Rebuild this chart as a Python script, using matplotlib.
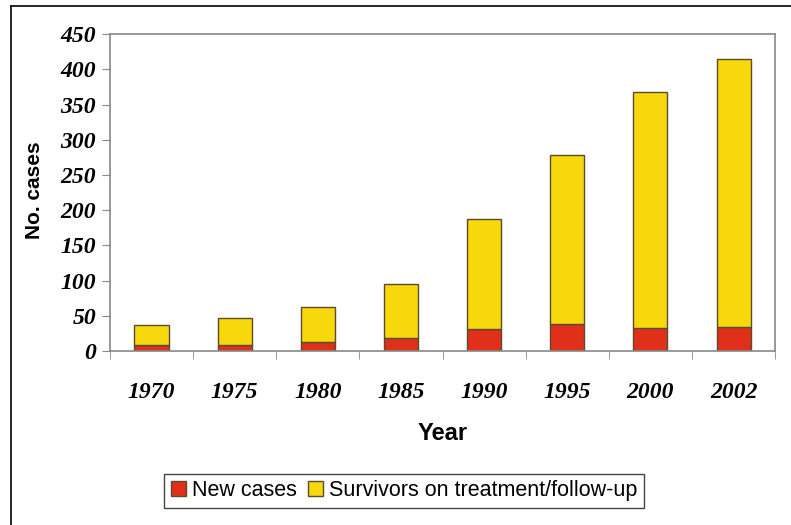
import numpy as np
import matplotlib
matplotlib.use('Agg')
import matplotlib.pyplot as plt
from matplotlib.lines import Line2D

years = ['1970', '1975', '1980', '1985', '1990', '1995', '2000', '2002']
new_cases = [8, 8, 13, 19, 31, 39, 33, 34]
survivors = [29, 39, 49, 76, 156, 239, 335, 381]
y_ticks = [0, 50, 100, 150, 200, 250, 300, 350, 400, 450]

red = '#E0301A'
yellow = '#F6D80C'
edge = '#5A4A30'
spine_col = '#888888'

fig = plt.figure(figsize=(7.91, 5.25), dpi=100)
ax = fig.add_axes([0.139, 0.3314, 0.841, 0.6036])

x = np.arange(len(years))
ax.bar(x, new_cases, width=0.41, color=red, edgecolor=edge, linewidth=1.0,
       label='New cases')
ax.bar(x, survivors, width=0.41, bottom=new_cases, color=yellow,
       edgecolor=edge, linewidth=1.0, label='Survivors on treatment/follow-up')

ax.set_xlim(-0.5, len(years) - 0.5)
ax.set_ylim(0, 450)
ax.set_yticks(y_ticks)
ax.set_yticklabels([str(v) for v in y_ticks], family='Liberation Serif',
                   fontweight='bold', style='italic', fontsize=17)
ax.set_xticks(x)
ax.set_xticklabels(years, family='Liberation Serif', fontweight='bold',
                   style='italic', fontsize=17)
ax.set_xticks(np.arange(-0.5, len(years)), minor=True)
ax.tick_params(axis='x', which='major', length=0, pad=22)
ax.tick_params(axis='x', which='minor', length=6, color=spine_col, direction='out')
ax.tick_params(axis='y', length=6, color=spine_col, direction='out', pad=4)

for s in ax.spines.values():
    s.set_color(spine_col)
    s.set_linewidth(1.2)

fig.text(443 / 791, 1 - 433 / 525, 'Year', family='Liberation Sans',
         fontweight='bold', fontsize=17, ha='center', va='center')
fig.text(35 / 791, 1 - 190 / 525, 'No. cases', family='Liberation Sans',
         fontweight='bold', fontsize=15, rotation=90, ha='center', va='center')

leg = fig.legend(loc='center', bbox_to_anchor=(0.511, 0.065), ncol=2,
                 fancybox=False, edgecolor='#444444', framealpha=1,
                 handlelength=0.7, handleheight=0.7, handletextpad=0.3,
                 columnspacing=0.5, borderpad=0.3,
                 prop={'family': 'Liberation Sans', 'size': 15.5})
leg.get_frame().set_linewidth(1.0)

# outer frame (left and top edges visible)
fig.add_artist(Line2D([11 / 791, 11 / 791], [0, 1 - 6 / 525],
                      transform=fig.transFigure, color='black', lw=1.2))
fig.add_artist(Line2D([11 / 791, 1], [1 - 6 / 525, 1 - 6 / 525],
                      transform=fig.transFigure, color='black', lw=1.2))

fig.savefig('out.png', dpi=100)
